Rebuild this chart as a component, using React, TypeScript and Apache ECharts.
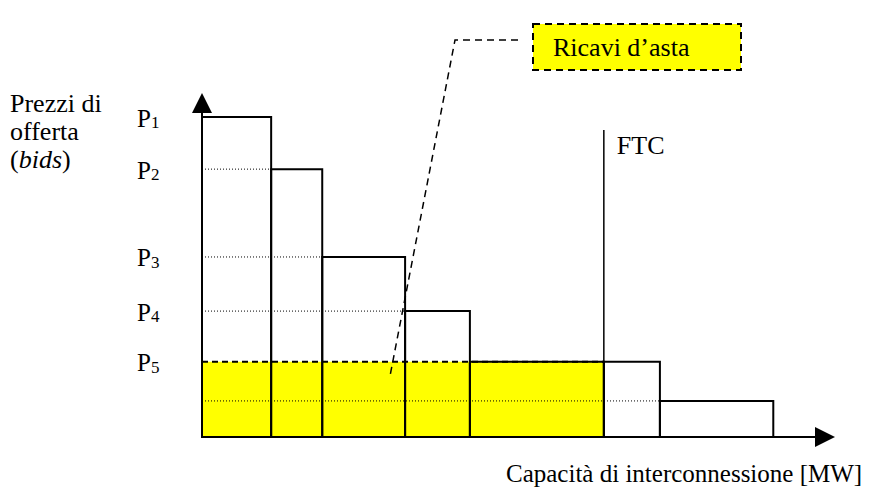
import React, { useEffect, useRef } from "react";
import * as echarts from "echarts";

// Bid blocks: width in MW and offered price (arbitrary units)
const bidWidths = [11.1, 8.2, 13.3, 10.4, 21.5, 9.0, 18.2];
const bidPrices = [95.8, 80.2, 53.9, 37.7, 22.5, 22.5, 10.8];
const priceLabels = ["1", "2", "3", "4", "5"];
const ftcCapacity = 64.5;
const ftcLineTop = 91.9;
const clearingPrice = 22.5;

const xTitle = "Capacità di interconnessione [MW]";
const calloutText = "Ricavi d’asta";
const ftcText = "FTC";

const FONT = '"Liberation Serif", "Times New Roman", serif';

export default function App() {
  const ref = useRef<HTMLDivElement>(null);

  useEffect(() => {
    if (!ref.current) return;
    const chart = echarts.init(ref.current, null, { renderer: "svg" });

    const blocks: number[][] = [];
    let acc = 0;
    bidWidths.forEach((w, i) => {
      blocks.push([acc, acc + w, bidPrices[i], i]);
      acc += w;
    });

    const option: any = {
      animation: false,
      grid: { left: 202, right: 60, top: 103, bottom: 51 },
      xAxis: {
        type: "value",
        min: 0,
        max: 100,
        axisLabel: { show: false },
        axisTick: { show: false },
        splitLine: { show: false },
        axisLine: {
          show: true,
          symbol: ["none", "triangle"],
          symbolSize: [20, 20],
          lineStyle: { color: "#000", width: 2 },
        },
      },
      yAxis: {
        type: "value",
        min: 0,
        max: 100,
        axisLabel: { show: false },
        axisTick: { show: false },
        splitLine: { show: false },
        axisLine: {
          show: true,
          symbol: ["none", "triangle"],
          symbolSize: [20, 20],
          lineStyle: { color: "#000", width: 2 },
        },
      },
      series: [
        {
          type: "custom",
          z: 1,
          data: [[0, ftcCapacity, clearingPrice]],
          renderItem: (params: any, api: any) => {
            const p0 = api.coord([api.value(0), 0]);
            const p1 = api.coord([api.value(1), api.value(2)]);
            return {
              type: "group",
              children: [
                {
                  type: "rect",
                  shape: { x: p0[0], y: p1[1], width: p1[0] - p0[0], height: p0[1] - p1[1] },
                  style: { fill: "#FFFF00", stroke: null },
                },
                {
                  type: "line",
                  shape: { x1: p0[0], y1: p1[1], x2: p1[0], y2: p1[1] },
                  style: { stroke: "#000", lineWidth: 2, lineDash: [6, 4] },
                },
              ],
            };
          },
        },
        {
          type: "custom",
          z: 2,
          data: blocks.filter((b) => b[3] > 0 && b[2] !== clearingPrice),
          renderItem: (params: any, api: any) => {
            const a = api.coord([0, api.value(2)]);
            const b = api.coord([api.value(0), api.value(2)]);
            return {
              type: "line",
              shape: { x1: a[0], y1: a[1], x2: b[0], y2: b[1] },
              style: { stroke: "#000", lineWidth: 1, lineDash: [1, 2] },
            };
          },
        },
        {
          type: "custom",
          z: 3,
          data: blocks,
          renderItem: (params: any, api: any) => {
            const p0 = api.coord([api.value(0), 0]);
            const p1 = api.coord([api.value(1), api.value(2)]);
            return {
              type: "rect",
              shape: { x: p0[0], y: p1[1], width: p1[0] - p0[0], height: p0[1] - p1[1] },
              style: { fill: "none", stroke: "#000", lineWidth: 2 },
            };
          },
        },
        {
          type: "custom",
          z: 4,
          data: [[ftcCapacity, ftcLineTop]],
          renderItem: (params: any, api: any) => {
            const a = api.coord([api.value(0), 0]);
            const b = api.coord([api.value(0), api.value(1)]);
            return {
              type: "group",
              children: [
                {
                  type: "line",
                  shape: { x1: a[0], y1: a[1], x2: b[0], y2: b[1] },
                  style: { stroke: "#000", lineWidth: 1.5 },
                },
                {
                  type: "text",
                  x: b[0] + 13,
                  y: b[1] + 15,
                  style: {
                    text: ftcText,
                    font: `26px ${FONT}`,
                    fill: "#000",
                    textAlign: "left",
                    textVerticalAlign: "middle",
                  },
                },
              ],
            };
          },
        },
        {
          type: "custom",
          z: 5,
          data: priceLabels.map((s, i) => [bidPrices[i], i]),
          renderItem: (params: any, api: any) => {
            const p = api.coord([0, api.value(0)]);
            const idx = api.value(1);
            return {
              type: "text",
              x: p[0] - 65,
              y: p[1] + 1,
              style: {
                text: `{a|P}{b|${priceLabels[idx]}}`,
                textAlign: "left",
                textVerticalAlign: "middle",
                rich: {
                  a: { fontFamily: FONT, fontSize: 25, color: "#000" },
                  b: { fontFamily: FONT, fontSize: 17, color: "#000", padding: [9, 0, 0, 0] },
                },
              },
            };
          },
        },
      ],
      graphic: [
        {
          type: "text",
          left: 10,
          top: 90,
          style: {
            text: "{n|Prezzi di}\n{n|offerta}\n{n|(}{i|bids}{n|)}",
            rich: {
              n: { fontFamily: FONT, fontSize: 26, lineHeight: 28, color: "#000" },
              i: { fontFamily: FONT, fontSize: 26, lineHeight: 28, fontStyle: "italic", color: "#000" },
            },
          },
        },
        {
          type: "polyline",
          shape: { points: [[518, 40], [455, 40], [390, 376]] },
          style: { stroke: "#000", lineWidth: 1.5, lineDash: [7, 5], fill: "none" },
          z: 10,
        },
        {
          type: "rect",
          shape: { x: 533, y: 24, width: 208, height: 46 },
          style: { fill: "#FFFF00", stroke: "#000", lineWidth: 2, lineDash: [7, 5] },
          z: 10,
        },
        {
          type: "text",
          x: 553,
          y: 47,
          style: {
            text: calloutText,
            font: `26px ${FONT}`,
            fill: "#000",
            textAlign: "left",
            textVerticalAlign: "middle",
          },
          z: 11,
        },
        {
          type: "text",
          x: 506,
          y: 473,
          style: {
            text: xTitle,
            font: `25px ${FONT}`,
            fill: "#000",
            textAlign: "left",
            textVerticalAlign: "middle",
          },
        },
      ],
    };

    chart.setOption(option);
    return () => chart.dispose();
  }, []);

  return (
    <div
      ref={ref}
      style={{ position: "fixed", left: 0, top: 0, width: 885, height: 488, background: "#fff" }}
    />
  );
}
